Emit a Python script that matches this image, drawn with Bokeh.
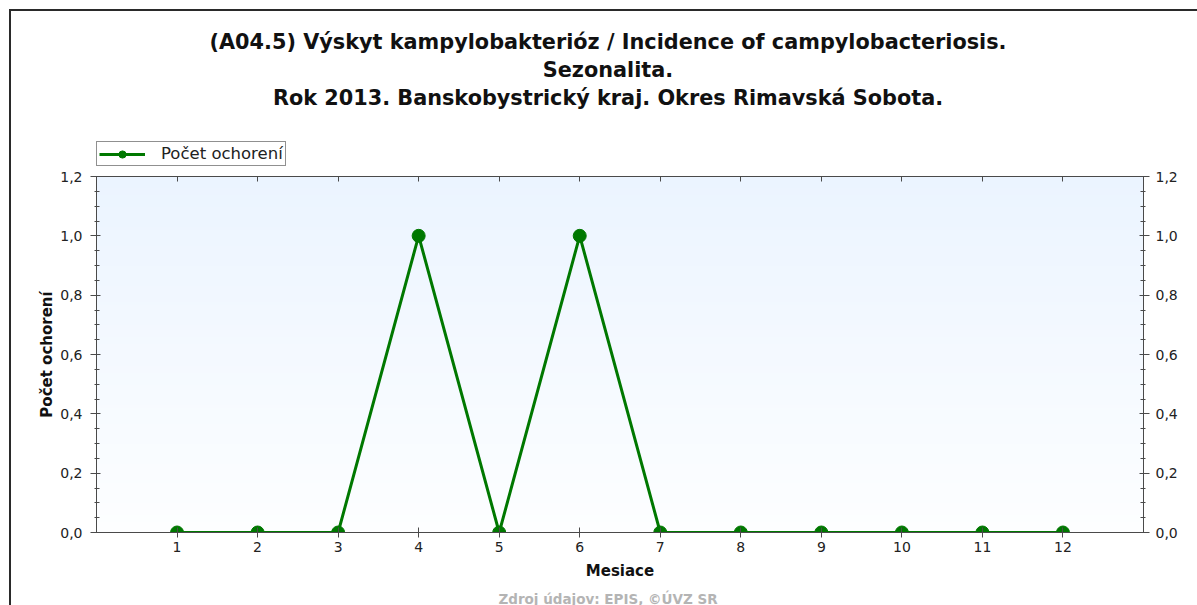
import numpy as np
from bokeh.plotting import figure
from bokeh.layouts import column
from bokeh.models import (FixedTicker, LinearAxis, Range1d, Legend, Label,
                          LegendItem, CustomJSTickFormatter, CustomLabelingPolicy)
from bokeh.embed import file_html
from bokeh.resources import INLINE

# ---- data ----
months = [1, 2, 3, 4, 5, 6, 7, 8, 9, 10, 11, 12]
cases = [0, 0, 0, 1, 0, 1, 0, 0, 0, 0, 0, 0]
y_ticks = [0.0, 0.2, 0.4, 0.6, 0.8, 1.0, 1.2]
title_lines = [
    "(A04.5) Výskyt kampylobakterióz / Incidence of campylobacteriosis.",
    "Sezonalita.",
    "Rok 2013. Banskobystrický kraj. Okres Rimavská Sobota.",
]
series_name = "Počet ochorení"
x_label = "Mesiace"
y_label = "Počet ochorení"
source_text = "Zdroj údajov: EPIS, ©ÚVZ SR"

GREEN = "#007800"
AXIS = "#4a4a4a"
TXT = "#222222"
FONT = "DejaVu Sans"

W = 1186
H_HEAD, H_MAIN, H_FOOT = 159, 418, 17
B_LEFT, B_RIGHT = 85, 54          # borders around the plot area
FX0, FX1 = B_LEFT, W - B_RIGHT     # plot-area span in canvas pixels


def blank_fig(h):
    # the column aligns this figure's frame with the main plot area,
    # so its x range is expressed in canvas pixels of that span
    f = figure(width=W, height=h, output_backend="svg", toolbar_location=None,
               x_range=Range1d(FX0, FX1), y_range=Range1d(h, 0),
               x_axis_location=None, y_axis_location=None)
    f.min_border_left = f.min_border_right = f.min_border_top = f.min_border_bottom = 0
    f.grid.visible = False
    f.outline_line_color = None
    f.background_fill_color = "white"
    f.border_fill_color = "white"
    return f


# ---------------- header: titles + legend ----------------
head = blank_fig(H_HEAD)
for txt, yy in zip(title_lines, [30.5, 58, 86.5]):
    head.add_layout(Label(x=596.5, y=yy, text=txt, text_align="center",
                          text_baseline="middle", text_font=FONT,
                          text_font_style="bold", text_font_size="20.8px",
                          text_color="#111111"))
leg_line = head.line(x=[np.nan], y=[np.nan], line_color=GREEN, line_width=3)
leg_pts = head.scatter(x=[np.nan], y=[np.nan], size=13, fill_color=GREEN, line_color=GREEN)
legend = Legend(items=[LegendItem(label=series_name, renderers=[leg_line, leg_pts])],
                location=(0, 4), orientation="horizontal",
                border_line_color="#222222", border_line_width=1,
                background_fill_color="white", background_fill_alpha=1,
                label_text_font=FONT, label_text_font_size="16.5px",
                label_text_color=TXT, glyph_width=46, glyph_height=18,
                label_height=18, label_standoff=16, padding=2, margin=0, spacing=0)
head.add_layout(legend, "center")

# ---------------- main chart ----------------
p = figure(width=W, height=H_MAIN, output_backend="svg", toolbar_location=None,
           x_range=Range1d(0, 13), y_range=Range1d(0, 1.2),
           min_border_left=B_LEFT, min_border_right=B_RIGHT, min_border_top=6,
           min_border_bottom=56, x_axis_location=None, y_axis_location=None)
p.title.visible = False
p.outline_line_color = None
p.background_fill_color = "white"
p.border_fill_color = "white"
p.grid.visible = False

# gradient background of the plot area
n = 200
top_c = np.array([235, 244, 255], dtype=float)
bot_c = np.array([253, 254, 255], dtype=float)
t = np.linspace(0, 1, n)[:, None]
cols = bot_c + (top_c - bot_c) * t
img = np.empty((n, 1), dtype=np.uint32)
view = img.view(dtype=np.uint8).reshape((n, 1, 4))
view[:, 0, 0:3] = np.round(cols).astype(np.uint8)
view[:, 0, 3] = 255
p.image_rgba(image=[img], x=p.x_range.start, y=p.y_range.start,
             dw=p.x_range.end - p.x_range.start, dh=p.y_range.end - p.y_range.start)

r_line = p.line(months, cases, line_color=GREEN, line_width=3)
r_pts = p.scatter(months, cases, size=13, fill_color=GREEN, line_color=GREEN)

fmt = CustomJSTickFormatter(code="return tick.toFixed(1).replace('.', ',');")
minor = [round(v, 2) for v in np.arange(0, 1.2001, 0.05)]


def style(ax):
    ax.axis_line_color = AXIS
    ax.axis_line_width = 1
    ax.major_tick_line_color = AXIS
    ax.minor_tick_line_color = AXIS
    ax.major_label_text_font = FONT
    ax.major_label_text_font_size = "14px"
    ax.major_label_text_color = TXT
    ax.axis_label_text_font = FONT
    ax.axis_label_text_font_size = "15px"
    ax.axis_label_text_font_style = "bold"
    ax.axis_label_text_color = "#111111"


for side in ("left", "right"):
    ax = LinearAxis(ticker=FixedTicker(ticks=y_ticks, minor_ticks=minor), formatter=fmt)
    style(ax)
    ax.major_tick_out = 6
    ax.major_tick_in = 4
    ax.minor_tick_out = 2
    ax.minor_tick_in = 3
    ax.major_label_standoff = 8 if side == "left" else 6
    if side == "left":
        ax.axis_label = y_label
        ax.axis_label_standoff = 1
    p.add_layout(ax, side)

xb = LinearAxis(ticker=FixedTicker(ticks=months, minor_ticks=[]), axis_label=x_label)
style(xb)
xb.major_tick_out = 5
xb.major_tick_in = 5
xb.major_label_standoff = 4
xb.axis_label_standoff = 7
p.add_layout(xb, "below")

# top axis: ticks only, no labels drawn
xt = LinearAxis(ticker=FixedTicker(ticks=months, minor_ticks=[]),
                major_label_policy=CustomLabelingPolicy(code="return [];"))
style(xt)
xt.major_tick_out = 0
xt.major_tick_in = 5
xt.major_label_standoff = 0
xt.major_label_text_font_size = "0px"
p.add_layout(xt, "above")

# ---------------- footer: source ----------------
foot = blank_fig(H_FOOT)
foot.add_layout(Label(x=596.5, y=2, text=source_text, text_align="center",
                      text_baseline="top", text_font=FONT, text_font_style="bold",
                      text_font_size="13.5px", text_color="#b4b4b4"))

layout = column(head, p, foot, spacing=0)
layout.styles = {"margin-left": "9px", "margin-top": "9px",
                 "border-left": "2px solid #2a2a2a", "border-top": "2px solid #2a2a2a"}

open("out.html", "w").write(file_html(layout, INLINE))
